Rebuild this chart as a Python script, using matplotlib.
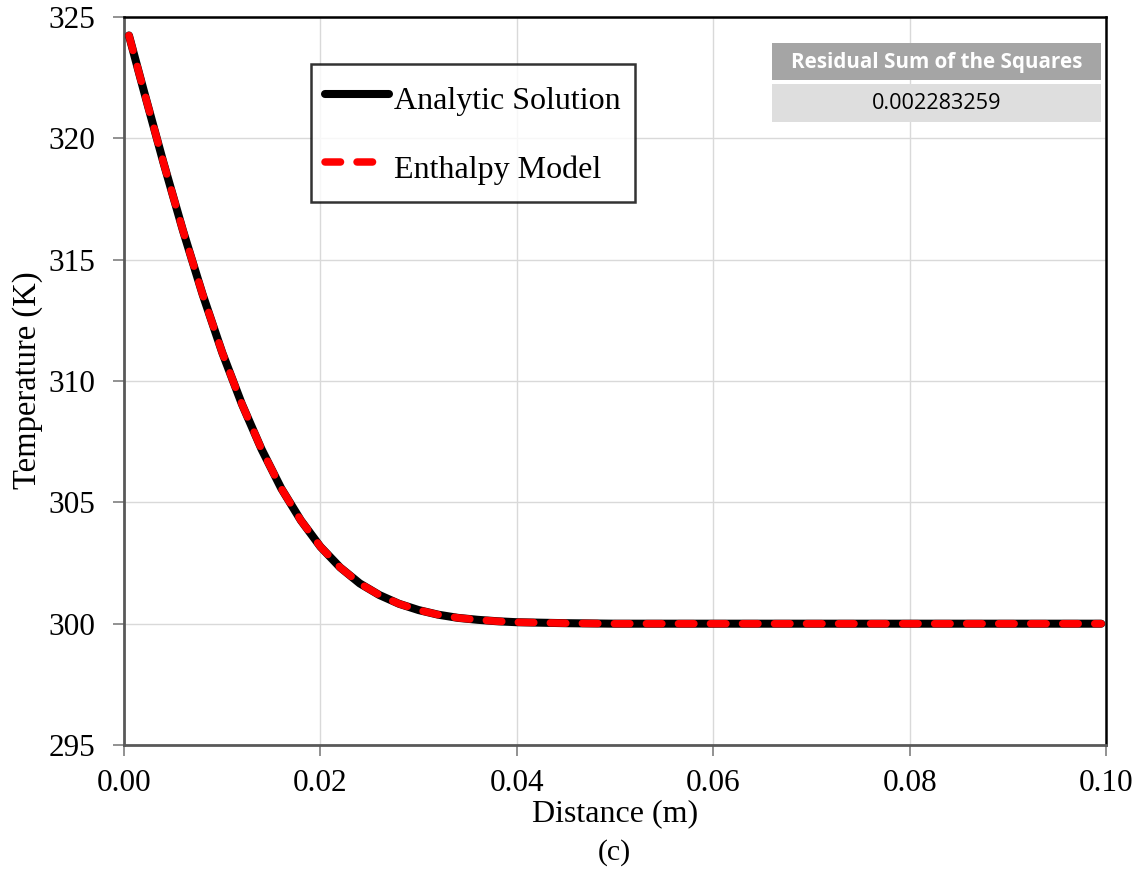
import matplotlib
matplotlib.use("Agg")
import matplotlib.pyplot as plt
from matplotlib.patches import Rectangle

# Data
distance = [0.0005, 0.002, 0.004, 0.006, 0.008, 0.010, 0.012, 0.014, 0.016, 0.018,
            0.020, 0.022, 0.024, 0.026, 0.028, 0.030, 0.032, 0.034, 0.036, 0.038,
            0.040, 0.045, 0.050, 0.060, 0.070, 0.080, 0.090, 0.0995]
analytic = [324.24, 321.98, 319.02, 316.20, 313.57, 311.17, 309.05, 307.19, 305.58, 304.26,
            303.17, 302.32, 301.66, 301.18, 300.82, 300.56, 300.37, 300.24, 300.16, 300.10,
            300.06, 300.02, 300.00, 300.00, 300.00, 300.00, 300.00, 300.00]
enthalpy = [324.24, 321.98, 319.02, 316.20, 313.57, 311.17, 309.05, 307.19, 305.58, 304.26,
            303.17, 302.32, 301.66, 301.18, 300.82, 300.56, 300.37, 300.24, 300.16, 300.10,
            300.06, 300.02, 300.00, 300.00, 300.00, 300.00, 300.00, 300.00]
x_ticks = [0.00, 0.02, 0.04, 0.06, 0.08, 0.10]
y_ticks = [295, 300, 305, 310, 315, 320, 325]
rss_header = "Residual Sum of the Squares"
rss_value = "0.002283259"

serif = ["Liberation Serif", "DejaVu Serif"]
plt.rcParams["font.family"] = serif

fig = plt.figure(figsize=(11.38, 8.73), dpi=100)
ax = fig.add_axes([0.109, 0.1466, 0.863, 0.8339])

ax.plot(distance, analytic, color="black", lw=5.8, solid_capstyle="round",
        solid_joinstyle="round", label="Analytic Solution", zorder=3)
ax.plot(distance, enthalpy, color="#ff0000", lw=5.4, dashes=(2.07, 2.2),
        dash_capstyle="round", label="Enthalpy Model", zorder=4)

ax.set_xlim(0, 0.10)
ax.set_ylim(295, 325)
ax.set_xticks(x_ticks)
ax.set_xticklabels([f"{v:.2f}" for v in x_ticks])
ax.set_yticks(y_ticks)
ax.grid(True, color="#d9d9d9", lw=1.0, zorder=0)
ax.set_axisbelow(True)

for side in ["left", "bottom"]:
    ax.spines[side].set_color("#595959")
    ax.spines[side].set_linewidth(2.0)
for side in ["top", "right"]:
    ax.spines[side].set_color("black")
    ax.spines[side].set_linewidth(1.8)

ax.tick_params(axis="both", which="major", labelsize=22.5, direction="out",
               length=8, width=1.2, color="#7f7f7f")
ax.tick_params(axis="y", pad=13)
ax.tick_params(axis="x", pad=9)

ax.set_xlabel("Distance (m)", fontsize=23, labelpad=1)
ax.set_ylabel("Temperature (K)", fontsize=23.5)
ax.yaxis.set_label_coords(-0.0825, 0.501)

fig.text(0.5395, 0.024, "(c)", ha="center", va="center", fontsize=21.5)

leg = ax.legend(loc="upper left", bbox_to_anchor=(0.1904, 0.9354), fontsize=23,
                frameon=True, fancybox=False, edgecolor="black", handlelength=2.0,
                handleheight=1.6, handletextpad=0.15, labelspacing=0.85,
                borderpad=0.45, borderaxespad=0)
leg.get_frame().set_linewidth(1.8)
for h in leg.get_lines():
    h.set_dash_capstyle("round")
    h.set_solid_capstyle("round")

# Residual Sum of the Squares table
tx0, tx1 = 772, 1101
W, H = 1138, 873
def fx(px):
    return px / W
def fy(py):
    return 1 - py / H

fig.patches.append(Rectangle((fx(tx0), fy(80)), fx(tx1) - fx(tx0), fy(43) - fy(80),
                             transform=fig.transFigure, facecolor="#a5a5a5",
                             edgecolor="none", zorder=5))
fig.patches.append(Rectangle((fx(tx0), fy(122)), fx(tx1) - fx(tx0), fy(84) - fy(122),
                             transform=fig.transFigure, facecolor="#dedede",
                             edgecolor="none", zorder=5))
fig.text(fx((tx0 + tx1) / 2), fy(62.5), rss_header, ha="center", va="center",
         fontsize=14.9, fontweight="bold", color="white", family=["Open Sans", "DejaVu Sans"],
         zorder=6)
fig.text(fx((tx0 + tx1) / 2), fy(103.5), rss_value, ha="center", va="center",
         fontsize=15.6, color="black", family=["Open Sans", "DejaVu Sans"], zorder=6)

fig.savefig("out.png", dpi=100)
